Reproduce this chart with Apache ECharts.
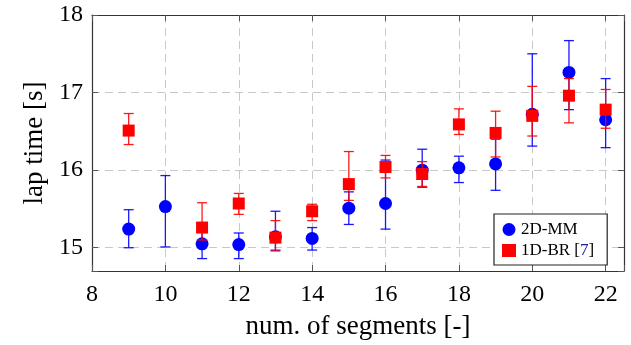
<!DOCTYPE html>
<html><head><meta charset="utf-8">
<script src="https://cdn.jsdelivr.net/npm/echarts@6/dist/echarts.min.js"></script>
<style>html,body{margin:0;padding:0;background:#fff}#c{width:631px;height:345px}</style>
</head><body><div id="c"></div>
<script>
// ---- data ----
const xMM = [9,10,11,12,13,14,15,16,17,18,19,20,21,22];
const mmMean = [15.24,15.53,15.05,15.04,15.14,15.12,15.51,15.57,16.00,16.03,16.08,16.72,17.26,16.65];
const mmLow  = [15.00,15.01,14.86,14.86,14.96,14.97,15.30,15.24,15.78,15.84,15.74,16.31,16.78,16.29];
const mmHigh = [15.49,15.93,15.22,15.19,15.47,15.26,15.72,16.13,16.27,16.18,16.40,17.50,17.67,17.18];

const xBR = [9,11,12,13,14,15,16,17,18,19,20,21,22];
const brMean = [16.51,15.26,15.57,15.13,15.47,15.82,16.04,15.95,16.59,16.48,16.70,16.96,16.78];
const brLow  = [16.33,15.10,15.43,14.97,15.35,15.61,15.90,15.79,16.46,16.17,16.44,16.61,16.54];
const brHigh = [16.73,15.58,15.70,15.35,15.56,16.24,16.19,16.11,16.79,16.76,17.08,17.18,17.04];

const seriesNames = ['2D-MM','1D-BR [7]'];
const xLabel = 'num. of segments [-]';
const yLabel = 'lap time [s]';

const BLUE = '#0000ff', RED = '#ff0000';
const FONT = 'Liberation Serif';

function errData(xs, lo, hi){ return xs.map((x,i)=>[x, lo[i], hi[i]]); }
function errRender(color){
  return function(params, api){
    const x = api.value(0);
    const p1 = api.coord([x, api.value(1)]);
    const p2 = api.coord([x, api.value(2)]);
    const hw = 5;
    const st = {stroke: color, lineWidth: 1.3, opacity: 0.9};
    return {type:'group', children:[
      {type:'line', shape:{x1:p1[0],y1:p1[1],x2:p2[0],y2:p2[1]}, style:st},
      {type:'line', shape:{x1:p1[0]-hw,y1:p1[1],x2:p1[0]+hw,y2:p1[1]}, style:st},
      {type:'line', shape:{x1:p2[0]-hw,y1:p2[1],x2:p2[0]+hw,y2:p2[1]}, style:st}
    ]};
  };
}

const chart = echarts.init(document.getElementById('c'), null, {renderer:'canvas'});
const axisCommon = {
  axisLine:{show:true, lineStyle:{color:'#333', width:1.2}},
  axisTick:{show:true, inside:true, length:6, lineStyle:{color:'#555', width:1}},
};
chart.setOption({
  animation:false,
  backgroundColor:'#fff',
  grid:{left:92, top:15, width:532, height:258},
  xAxis:[
    Object.assign({type:'value', min:8, max:22.5, minInterval:2, maxInterval:2,
      name:xLabel, nameLocation:'middle', nameGap:42,
      nameTextStyle:{fontFamily:FONT, fontSize:27, color:'#000'},
      axisLabel:{fontFamily:FONT, fontSize:24, color:'#000', margin:12,
        formatter:v => (Math.abs(v/2 - Math.round(v/2))<1e-6) ? String(v) : ''},
      splitLine:{show:true, lineStyle:{color:'#c8c8c8', type:[8,5], width:1}}
    }, axisCommon),
    Object.assign({type:'value', position:'top', min:8, max:22.5, minInterval:2, maxInterval:2,
      axisLabel:{show:false}, splitLine:{show:false}}, axisCommon)
  ],
  yAxis:[
    Object.assign({type:'value', min:14.7, max:18, minInterval:1, maxInterval:1,
      name:yLabel, nameLocation:'middle', nameGap:39, nameRotate:90,
      nameTextStyle:{fontFamily:FONT, fontSize:27, color:'#000'},
      axisLabel:{fontFamily:FONT, fontSize:24, color:'#000', margin:9,
        formatter:v => (Math.abs(v - Math.round(v))<1e-6) ? String(v) : ''},
      splitLine:{show:true, lineStyle:{color:'#c8c8c8', type:[8,5], width:1}}
    }, axisCommon),
    Object.assign({type:'value', position:'right', min:14.7, max:18, minInterval:1, maxInterval:1,
      axisLabel:{show:false}, splitLine:{show:false}}, axisCommon)
  ],
  legend:{
    left:494, top:214, orient:'vertical',
    backgroundColor:'#fff', borderColor:'#222', borderWidth:1.2, borderRadius:0,
    padding:[7,13,6,8], itemGap:4, itemWidth:14, itemHeight:13,
    textStyle:{fontFamily:FONT, fontSize:17, color:'#000',
      rich:{a:{fontFamily:FONT, fontSize:17, color:'#000'}, b:{fontFamily:FONT, fontSize:17, color:'#1a1a9a'}}},
    formatter: n => n === seriesNames[1] ? '{a|1D-BR [}{b|7}{a|]}' : '{a|' + n + '}',
    data:[{name:seriesNames[0], icon:'circle'},{name:seriesNames[1], icon:'rect'}]
  },
  series:[
    {type:'custom', name:seriesNames[0], renderItem:errRender(BLUE), data:errData(xMM,mmLow,mmHigh),
      encode:{x:0, y:[1,2]}, itemStyle:{color:BLUE}, z:2, silent:true},
    {type:'scatter', name:seriesNames[0], symbol:'circle', symbolSize:13,
      data:xMM.map((x,i)=>[x,mmMean[i]]), itemStyle:{color:BLUE, opacity:1}, z:3},
    {type:'custom', name:seriesNames[1], renderItem:errRender(RED), data:errData(xBR,brLow,brHigh),
      encode:{x:0, y:[1,2]}, itemStyle:{color:RED}, z:4, silent:true},
    {type:'scatter', name:seriesNames[1], symbol:'rect', symbolSize:12,
      data:xBR.map((x,i)=>[x,brMean[i]]), itemStyle:{color:RED, opacity:1}, z:5}
  ]
});
</script></body></html>
